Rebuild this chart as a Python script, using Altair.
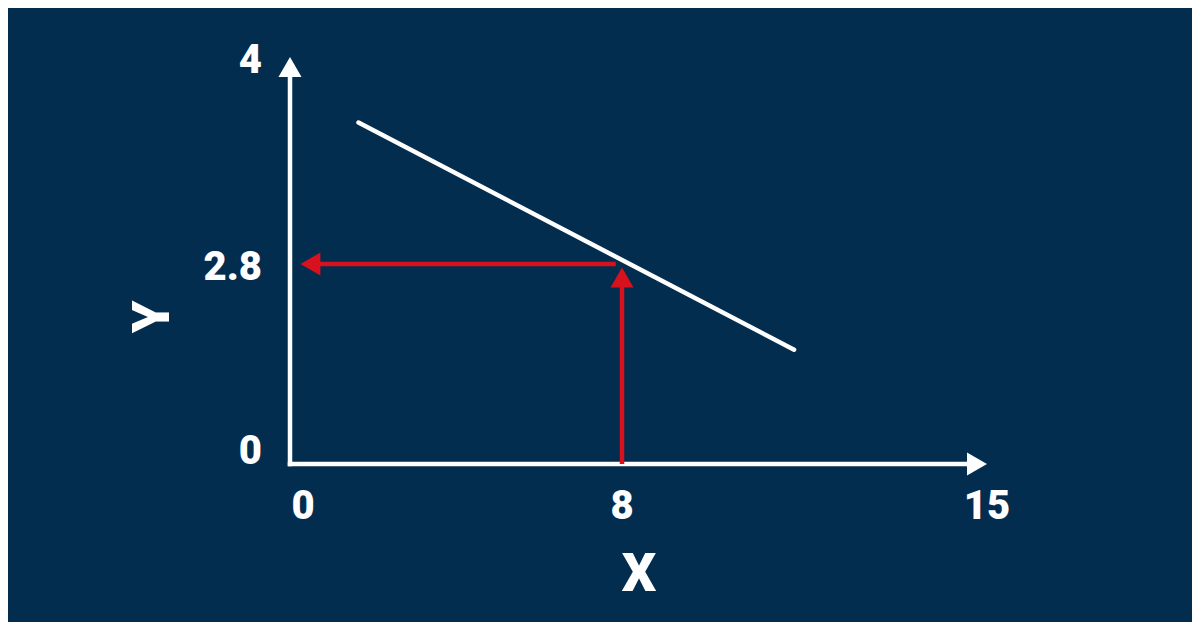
import altair as alt
import pandas as pd

# ---- data ----
x_ticks = [0, 8, 15]
x_tick_labels = ["0", "8", "15"]
y_ticks = [0, 2.8, 4]
y_tick_labels = ["0", "2.8", "4"]

line_x = [1.65, 11.3]
line_y = [3.62, 1.6]

x_axis_end = 15
y_axis_end = 4

target_x = 8
vert_y_end = 2.75
target_y = 2.8
horiz_x_start = 7.85
horiz_x_end = 0.25

BG = "#032D4F"
WHITE = "#FFFFFF"
RED = "#D7121E"
FONT = "Roboto"
WEIGHT = 900

xs = alt.Scale(domain=[0, 8, 15], range=[282, 614, 979], nice=False, zero=False)
ys = alt.Scale(domain=[0, 2.8, 4], range=[456, 256, 49], nice=False, zero=False)

ARROW_UP = "M0,0L0.577,1L-0.577,1Z"
ARROW_RIGHT = "M0,0L-1,0.577L-1,-0.577Z"
ARROW_LEFT = "M0,0L1,0.577L1,-0.577Z"

X = lambda f: alt.X(f, type="quantitative", scale=xs, axis=None)
Y = lambda f: alt.Y(f, type="quantitative", scale=ys, axis=None)

# axes
xaxis_df = pd.DataFrame({"x": [0], "x2": [x_axis_end], "y": [0]})
yaxis_df = pd.DataFrame({"x": [0], "y": [0], "y2": [y_axis_end]})

x_axis = alt.Chart(xaxis_df).mark_rule(
    color=WHITE, strokeWidth=4.5, strokeCap="square", x2Offset=-12
).encode(x=X("x"), x2="x2", y=Y("y"))
x_head = alt.Chart(pd.DataFrame({"x": [x_axis_end], "y": [0]})).mark_point(
    shape=ARROW_RIGHT, size=1600, filled=True, color=WHITE, opacity=1, strokeWidth=0
).encode(x=X("x"), y=Y("y"))

y_axis = alt.Chart(yaxis_df).mark_rule(
    color=WHITE, strokeWidth=4.5, strokeCap="square", y2Offset=12
).encode(x=X("x"), y=Y("y"), y2="y2")
y_head = alt.Chart(pd.DataFrame({"x": [0], "y": [y_axis_end]})).mark_point(
    shape=ARROW_UP, size=1600, filled=True, color=WHITE, opacity=1, strokeWidth=0
).encode(x=X("x"), y=Y("y"))

# data line
line_df = pd.DataFrame({"x": line_x, "y": line_y})
line = alt.Chart(line_df).mark_line(
    color=WHITE, strokeWidth=4.5, strokeCap="round"
).encode(x=X("x"), y=Y("y"))

# red arrows
vert_df = pd.DataFrame({"x": [target_x], "y": [0], "y2": [vert_y_end]})
red_vert = alt.Chart(vert_df).mark_rule(
    color=RED, strokeWidth=4.5, y2Offset=12
).encode(x=X("x"), y=Y("y"), y2="y2")
red_vert_head = alt.Chart(pd.DataFrame({"x": [target_x], "y": [vert_y_end]})).mark_point(
    shape=ARROW_UP, size=1600, filled=True, color=RED, opacity=1, strokeWidth=0
).encode(x=X("x"), y=Y("y"))

horiz_df = pd.DataFrame({"x": [horiz_x_start], "x2": [horiz_x_end], "y": [target_y]})
red_horiz = alt.Chart(horiz_df).mark_rule(
    color=RED, strokeWidth=4.5, x2Offset=12
).encode(x=X("x"), x2="x2", y=Y("y"))
red_horiz_head = alt.Chart(pd.DataFrame({"x": [horiz_x_end], "y": [target_y]})).mark_point(
    shape=ARROW_LEFT, size=1600, filled=True, color=RED, opacity=1, strokeWidth=0
).encode(x=X("x"), y=Y("y"))

# tick labels
xt_df = pd.DataFrame({"x": x_ticks, "label": x_tick_labels, "y": [0] * len(x_ticks)})
xt_main = alt.Chart(xt_df).transform_filter("datum.x != 0").mark_text(
    font=FONT, fontSize=40, fontWeight=WEIGHT, color=WHITE, baseline="middle", align="center", dy=43
).encode(x=X("x"), y=Y("y"), text="label")
xt_zero = alt.Chart(xt_df).transform_filter("datum.x == 0").mark_text(
    font=FONT, fontSize=40, fontWeight=WEIGHT, color=WHITE, baseline="middle", align="center", dy=43, dx=13
).encode(x=X("x"), y=Y("y"), text="label")

yt_df = pd.DataFrame({"y": y_ticks, "label": y_tick_labels})
yt_main = alt.Chart(yt_df).transform_filter("datum.y != 0").mark_text(
    font=FONT, fontSize=40, fontWeight=WEIGHT, color=WHITE, baseline="middle", align="right", dy=4
).encode(x=alt.value(254), y=Y("y"), text="label")
yt_zero = alt.Chart(yt_df).transform_filter("datum.y == 0").mark_text(
    font=FONT, fontSize=40, fontWeight=WEIGHT, color=WHITE, baseline="middle", align="right", dy=-12
).encode(x=alt.value(254), y=Y("y"), text="label")

# axis titles
x_title = alt.Chart(pd.DataFrame({"t": ["X"]})).mark_text(
    font=FONT, fontSize=54, fontWeight=WEIGHT, color=WHITE, baseline="middle", align="center"
).encode(x=alt.value(631), y=alt.value(567), text="t")
y_title = alt.Chart(pd.DataFrame({"t": ["Y"]})).mark_text(
    font=FONT, fontSize=52, fontWeight=WEIGHT, color=WHITE, baseline="middle", align="center", angle=270
).encode(x=alt.value(145), y=alt.value(309), text="t")

chart = alt.layer(
    x_axis, y_axis, line, red_vert, red_horiz,
    x_head, y_head, red_vert_head, red_horiz_head,
    xt_main, xt_zero, yt_main, yt_zero, x_title, y_title,
).properties(
    width=1184, height=614, background=BG, padding=0,
    autosize=alt.AutoSizeParams(type="none"),
).configure_view(stroke=None)

chart.save("out.html", embed_options={"renderer": "svg", "actions": False})
